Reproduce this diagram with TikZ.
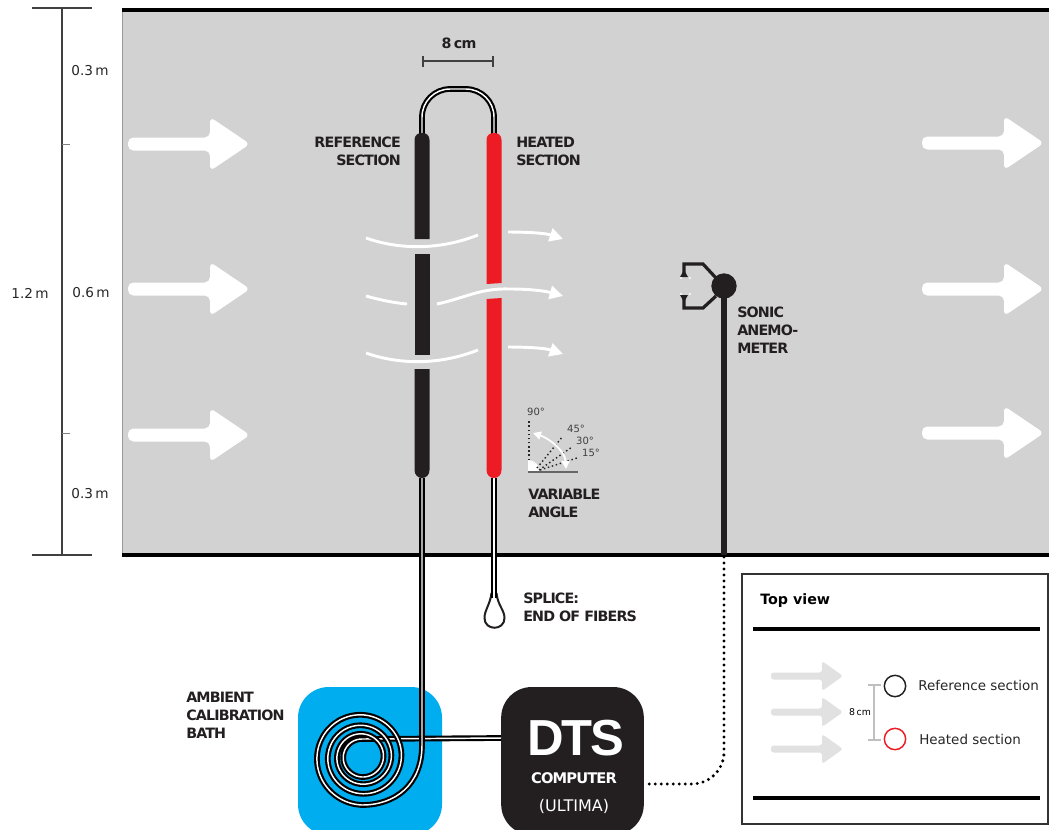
\documentclass[tikz,border=0pt]{standalone}
\usepackage{fontspec}
\setmainfont{DejaVu Sans}
\newfontfamily\labelfont{DejaVu Sans}[LetterSpace=-6]
\newfontfamily\bigfont{Liberation Sans}[LetterSpace=-5]
\usetikzlibrary{arrows.meta,positioning,calc}
\definecolor{tunnelgray}{RGB}{210,210,210}
\definecolor{bathblue}{RGB}{0,174,239}
\definecolor{heatred}{RGB}{237,28,36}
\definecolor{fiberblack}{RGB}{35,31,32}
\definecolor{ghostgray}{RGB}{225,225,225}
\tikzset{
  lab/.style={font=\labelfont\bfseries\fontsize{10.7}{13.7}\selectfont,text=fiberblack,inner sep=0pt},
  dim/.style={font=\fontsize{10.2}{12}\selectfont,text=black!85,inner sep=0pt},
  deg/.style={font=\fontsize{7.5}{9}\selectfont,text=black!75,inner sep=0pt},
  fiber/.style={draw=black,line width=1.6pt,double=white,double distance=1.1pt},
  flow/.style={white,line width=2.2pt},
  wall/.style={black,line width=2.8pt},
  dimline/.style={black!75,line width=0.9pt},
}
\begin{document}
\begin{tikzpicture}[x=0.75pt,y=-0.75pt]
  \useasboundingbox (0,0) rectangle (1049,829);
  \clip (0,0) rectangle (1049,829);
  % tunnel
  \fill[tunnelgray] (122,10) rectangle (1049,555);
  \draw[black!40,line width=0.6pt] (122,10) -- (122,555);
  \draw[wall] (122,10) -- (1049,10);
  \draw[wall] (122,555) -- (1049,555);
  % height scale
  \draw[dimline] (62,8) -- (62,555);
  \draw[dimline] (32,8) -- (92,8);
  \draw[dimline] (32,555) -- (92,555);
  \foreach \y in {144,433} \draw[black!50,line width=0.6pt] (62,\y) -- (70,\y);
  \node[dim] (topsize) at (90,71) {0.3\,m};
  \node[dim] (midsize) at (91,293) {0.6\,m};
  \node[dim] (lowsize) at (90,494) {0.3\,m};
  \node[dim] (fullsize) at (30,293) {1.2\,m};
  % wind
  \foreach \x/\y in {128/144,128/289,128/435,922/143,922/289,922/433}
    \fill[white,rounded corners=4pt] (\x,\y-6.5) -- (\x+82,\y-6.5) -- (\x+82,\y-27) -- (\x+122,\y)
      -- (\x+82,\y+27) -- (\x+82,\y+6.5) -- (\x,\y+6.5) -- cycle;
  % fibers in the bath, below the ones on top
  \node[fill=bathblue,rounded corners=23pt,minimum width=108pt,minimum height=111pt,inner sep=0pt] (bath) at (370,761) {};
  \node[fill=fiberblack,rounded corners=23pt,minimum width=107pt,minimum height=111pt,inner sep=0pt] (dts) at (572.5,761) {};
  \coordinate (dtsin) at (501,738);
  \coordinate (coilend) at (362,739);
  \draw[fiber] (coilend) -- (dtsin);
  \draw[fiber] (422,478) -- (422,745) .. controls (422,785) and (395,805) .. (362,805)
    -- plot[domain=90:1350,samples=170,smooth] ({362+(18+30*pow((1350-\x)/1260,1.4))*cos(\x)},{757+(18+30*pow((1350-\x)/1260,1.4))*sin(\x)});
  \draw[fiberblack,line width=1.5pt,fill=white] (491.5,593) .. controls (490,605) and (484.5,610) .. (484.5,618)
    .. controls (484.5,631) and (504.5,631) .. (504.5,618) .. controls (504.5,610) and (497.5,605) .. (496.5,593);
  \draw[fiber] (494,478) -- (494,598);
  \draw[fiber,rounded corners=21pt] (422,135) -- (422,89) -- (494,89) -- (494,135);
  % sections
  \fill[fiberblack] (414.5,239) -- (414.5,140) .. controls (414.5,135) and (418,133) .. (422,133) .. controls (426,133) and (429.5,135) .. (429.5,140) -- (429.5,239) -- cycle;
  \fill[fiberblack] (414.5,254) rectangle (429.5,355);
  \fill[fiberblack] (414.5,369) -- (429.5,369) -- (429.5,470) .. controls (429.5,475) and (426,478) .. (422,478) .. controls (418,478) and (414.5,475) .. (414.5,470) -- cycle;
  \fill[heatred] (486.5,284) -- (486.5,140) .. controls (486.5,135) and (490,133) .. (494,133) .. controls (498,133) and (501.5,135) .. (501.5,140) -- (501.5,283) -- cycle;
  \fill[heatred] (486.5,299) -- (501.5,298) -- (501.5,470) .. controls (501.5,475) and (498,478) .. (494,478) .. controls (490,478) and (486.5,475) .. (486.5,470) -- cycle;
  % flow through the fibers
  \foreach \y in {0,115} {
    \draw[flow] (366,238+\y) .. controls (400,250+\y) and (440,250+\y) .. (478,235+\y);
    \draw[flow,-{Triangle[length=10pt,width=10pt]}] (508,232+\y) .. controls (525,232+\y) and (545,233+\y) .. (563,239+\y);
  }
  \draw[flow] (366,296) .. controls (380,300) and (395,303) .. (407,304);
  \draw[flow,-{Triangle[length=10pt,width=10pt]}] (437,304) .. controls (465,298) and (480,288) .. (510,289) .. controls (530,289) and (545,291) .. (563,296);
  % 8 cm bar
  \draw[dimline] (423,61) -- (493,61);
  \draw[dimline] (423,56) -- (423,67);
  \draw[dimline] (493,56) -- (493,67);
  \node[lab] (spanlabel) at (459,43) {8\,cm};
  \node[lab,align=right,anchor=north east] (reflabel) at (401,136.5) {REFERENCE\\SECTION};
  \node[lab,align=left,anchor=north west] (heatlabel) at (516,136.5) {HEATED\\SECTION};
  % angle
  \fill[white] (528,472) -- (528,460) arc (90:0:12 and -12) -- cycle;
  \draw[black!60,line width=0.9pt] (528,472) -- (578,472);
  \draw[black!85,line width=1.1pt,dotted] (529,460) -- (529,420);
  \draw[black!85,line width=1.1pt,dotted] (537,468) -- (563,436);
  \draw[black!85,line width=1.1pt,dotted] (539,470) -- (572,447);
  \draw[black!85,line width=1.1pt,dotted] (540,470) -- (577,458);
  \draw[white,line width=1.3pt,{Triangle[length=6pt,width=6pt]}-{Triangle[length=6pt,width=6pt]}] (533,433) .. controls (548,438) and (565,450) .. (566,469);
  \node[deg] (degninety) at (536,412) {90°};
  \node[deg] (degfortyfive) at (576,429) {45°};
  \node[deg] (degthirty) at (585,441) {30°};
  \node[deg] (degfifteen) at (591,453) {15°};
  \node[lab,align=left,anchor=north west] (anglelabel) at (528,488.5) {VARIABLE\\ANGLE};
  % sonic
  \draw[fiberblack,line width=4.5pt] (724,286) -- (724,555);
  \fill[fiberblack] (724,286) circle (9.5pt);
  \draw[fiberblack,line width=2.4pt] (716,278) -- (703,264) -- (684,264) -- (684,273);
  \draw[fiberblack,line width=2.4pt] (716,296) -- (703,308) -- (684,308) -- (684,299);
  \fill[fiberblack] (684,270) -- (680,277) -- (688,277) -- cycle;
  \fill[fiberblack] (684,302) -- (680,295) -- (688,295) -- cycle;
  \foreach \x in {681,690} {\fill[white] (\x,278) circle (0.9pt); \fill[white] (\x,294) circle (0.9pt);}
  \node[lab,align=left,anchor=north west] (soniclabel) at (737,306.5) {SONIC\\ANEMO-\\METER};
  \node[lab,align=left,anchor=north west] (splicelabel) at (523,592.5) {SPLICE:\\END OF FIBERS};
  \node[lab,align=left,anchor=north west] (bathlabel) at (186,691.5) {AMBIENT\\CALIBRATION\\BATH};
  % computer
  \node[font=\bigfont\bfseries\fontsize{38}{38}\selectfont,text=white,inner sep=0pt] (dtsname) at (576,738) {DTS};
  \node[lab,text=white,font=\labelfont\bfseries\fontsize{11}{13}\selectfont] (dtscomputer) at (574,778) {COMPUTER};
  \node[font=\fontsize{12}{14}\selectfont,text=white,inner sep=0pt] (dtsmodel) at (574,806) {(ULTIMA)};
  % data line
  \coordinate (poleend) at (724,557);
  \coordinate (dtsout) at (648,784);
  \draw[black,line width=2.5pt,line cap=round,dash pattern=on 0pt off 4.5pt,rounded corners=24pt] (poleend) -- (724,784) -- (dtsout);
  % top view
  \draw[black!80,line width=1.1pt] (742,574) rectangle (1048,824);
  \node[font=\bfseries\fontsize{10.7}{12}\selectfont,anchor=west,inner sep=0pt] (toplabel) at (760,601) {Top view};
  \draw[black,line width=2.8pt] (753,629) -- (1040,629);
  \draw[black,line width=2.8pt] (753,798) -- (1040,798);
  \foreach \y in {676,712,749}
    \fill[ghostgray,rounded corners=2pt] (771,\y-3.5) -- (822,\y-3.5) -- (822,\y-15) -- (843,\y)
      -- (822,\y+15) -- (822,\y+3.5) -- (771,\y+3.5) -- cycle;
  \draw[black!25,line width=0.8pt] (874,685) -- (874,740);
  \draw[black!25,line width=0.8pt] (868,685) -- (881,685);
  \draw[black!25,line width=0.8pt] (868,740) -- (881,740);
  \node[draw=fiberblack,line width=1.1pt,circle,minimum size=16pt,inner sep=0pt] (refdot) at (895,686) {};
  \node[draw=heatred,line width=1.1pt,circle,minimum size=16pt,inner sep=0pt] (heatdot) at (895,739) {};
  \node[font=\fontsize{7}{9}\selectfont,inner sep=0pt] (topspan) at (860,712) {8\,cm};
  \node[font=\fontsize{10.1}{12}\selectfont,anchor=west,inner sep=0pt,text=black!85] (reftext) at (918,685) {Reference section};
  \node[font=\fontsize{10.1}{12}\selectfont,anchor=west,inner sep=0pt,text=black!85] (heattext) at (919,739) {Heated section};
\end{tikzpicture}
\end{document}
